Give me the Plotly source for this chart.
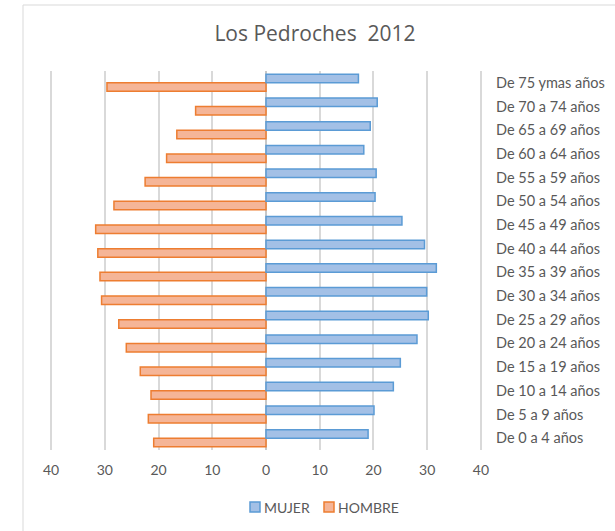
import plotly.graph_objects as go

categorias = [
    "De 0 a 4 años", "De 5 a 9 años", "De 10 a 14 años", "De 15 a 19 años",
    "De 20 a 24 años", "De 25 a 29 años", "De 30 a 34 años", "De 35 a 39 años",
    "De 40 a 44 años", "De 45 a 49 años", "De 50 a 54 años", "De 55 a 59 años",
    "De 60 a 64 años", "De 65 a 69 años", "De 70 a 74 años", "De 75 ymas años",
]
mujer = [19.0, 20.1, 23.7, 25.0, 28.1, 30.2, 29.9, 31.7,
         29.5, 25.3, 20.3, 20.5, 18.2, 19.4, 20.7, 17.2]
hombre = [20.9, 21.9, 21.4, 23.4, 26.0, 27.4, 30.6, 30.9,
          31.3, 31.7, 28.3, 22.5, 18.5, 16.6, 13.1, 29.6]
tick_vals = [-40, -30, -20, -10, 0, 10, 20, 30, 40]
tick_text = ["40", "30", "20", "10", "0", "10", "20", "30", "40"]
series_names = ["MUJER", "HOMBRE"]

FONT = "Lato"
GREY = "#595959"
BLUE_FILL, BLUE_LINE = "#A3C0E6", "#5B9BD5"
ORANGE_FILL, ORANGE_LINE = "#F5B597", "#ED7D31"

fig = go.Figure()
fig.add_trace(go.Bar(
    y=categorias, x=[-v for v in hombre], orientation="h", name=series_names[1],
    marker=dict(color=ORANGE_FILL, line=dict(color=ORANGE_LINE, width=1.5)),
    showlegend=False,
))
fig.add_trace(go.Bar(
    y=categorias, x=mujer, orientation="h", name=series_names[0],
    marker=dict(color=BLUE_FILL, line=dict(color=BLUE_LINE, width=1.5)),
    showlegend=False,
))

L, R, T, B = 50, 133, 71, 81
W, H = 615, 531
pw, ph = W - L - R, H - T - B


def px_x(x):
    return (x - L) / pw


def px_y(y):
    return (H - B - y) / ph


shapes = [
    dict(type="rect", xref="paper", yref="paper",
         x0=px_x(23), x1=px_x(640), y0=px_y(560), y1=px_y(5),
         line=dict(color="#D9D9D9", width=1), layer="above"),
]
annotations = []
# manual legend (decoration only)
legend_items = [(series_names[0], BLUE_FILL, BLUE_LINE, 250),
                (series_names[1], ORANGE_FILL, ORANGE_LINE, 324)]
for name, fc, lc, x0 in legend_items:
    shapes.append(dict(type="rect", xref="paper", yref="paper",
                       x0=px_x(x0), x1=px_x(x0 + 10),
                       y0=px_y(512), y1=px_y(502),
                       fillcolor=fc, line=dict(color=lc, width=1.5)))
    annotations.append(dict(text=name, xref="paper", yref="paper",
                            x=px_x(x0 + 12), y=px_y(507), xanchor="left",
                            yanchor="middle", showarrow=False,
                            font=dict(family=FONT, size=14, color=GREY)))

fig.update_layout(
    width=W, height=H,
    margin=dict(l=L, r=R, t=T, b=B, autoexpand=False),
    paper_bgcolor="white", plot_bgcolor="white",
    barmode="group", bargap=0.28, bargroupgap=0,
    font=dict(family=FONT, color=GREY, size=14),
    title=dict(text="Los Pedroches  2012", x=315 / W, xanchor="center",
               y=1 - 34 / H, yanchor="middle", yref="container",
               font=dict(family="Open Sans", size=21, color=GREY)),
    xaxis=dict(range=[-40.2, 40.2], tickvals=tick_vals, ticktext=tick_text,
               showgrid=True, gridcolor="#D9D9D9", gridwidth=1.5,
               zeroline=True, zerolinecolor="#C8C8C8", zerolinewidth=1.5,
               showline=False, ticks="", ticklabelstandoff=10,
               tickfont=dict(size=14, color=GREY),
               automargin=False, fixedrange=True),
    yaxis=dict(side="right", showgrid=False, zeroline=False, showline=False,
               ticks="", ticklabelstandoff=13, automargin=False,
               tickfont=dict(size=14.5, color=GREY), fixedrange=True),
    showlegend=False,
    shapes=shapes,
    annotations=annotations,
)

fig.write_html("out.html", config={"displayModeBar": False},
               post_script="document.body.style.margin='0px';")
